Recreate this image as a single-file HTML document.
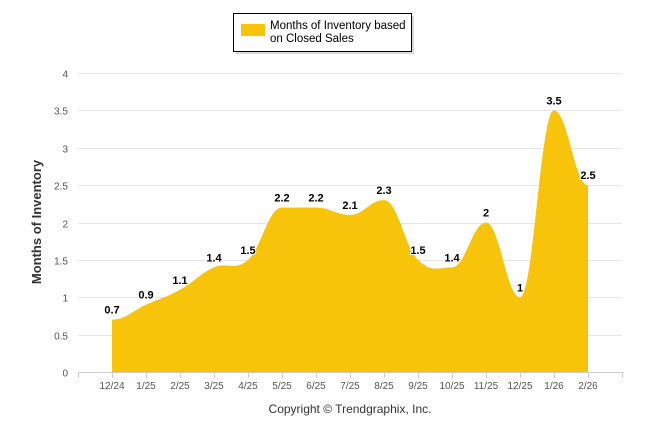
<!DOCTYPE html>
<html><head><meta charset="utf-8"><style>
body{margin:0;background:#fff;font-family:"Liberation Sans",Arial,sans-serif}
</style></head><body>
<svg width="646" height="434" viewBox="0 0 646 434">
<g>
<rect x="236" y="16" width="178" height="38" fill="#999" opacity="0.35"/>
<rect x="233.5" y="13.5" width="178" height="38" fill="#fff" stroke="#000" stroke-width="1"/>
<rect x="241" y="24" width="24" height="12" fill="#f8c40a"/>
<text x="270" y="29" font-size="11.5" fill="#000"><tspan x="270">Months of Inventory based</tspan><tspan x="270" dy="13">on Closed Sales</tspan></text>
</g>
<g id="grid"></g>
<path id="area" fill="#f8c40a"/>
<g id="labels"></g>
<line x1="78" y1="372.5" x2="622" y2="372.5" stroke="#ccc"/>
<g id="xticks"></g>
<text x="41" y="222" font-size="13" font-weight="bold" fill="#333" text-anchor="middle" transform="rotate(-90 41 222)">Months of Inventory</text>
<text x="350" y="413" font-size="12" fill="#333" text-anchor="middle">Copyright © Trendgraphix, Inc.</text>
</svg>
<script>
const categories=["12/24","1/25","2/25","3/25","4/25","5/25","6/25","7/25","8/25","9/25","10/25","11/25","12/25","1/26","2/26"];
const values=[0.7,0.9,1.1,1.4,1.5,2.2,2.2,2.1,2.3,1.5,1.4,2,1,3.5,2.5];
const yTicks=[0,0.5,1,1.5,2,2.5,3,3.5,4];
const NS="http://www.w3.org/2000/svg";
const L=78,R=622,T=73,B=372,YMAX=4;
const step=(R-L)/(categories.length+1);
const xs=i=>L+step*(i+1);
const ys=v=>B-(v/YMAX)*(B-T);
function mk(tag,attrs,parent,text){const e=document.createElementNS(NS,tag);for(const k in attrs)e.setAttribute(k,attrs[k]);if(text!=null)e.textContent=text;parent.appendChild(e);return e;}
const grid=document.getElementById('grid');
yTicks.forEach(t=>{
  const y=Math.round(ys(t))+0.5;
  if(t>0){const g=mk('line',{x1:L,x2:R,y1:y,y2:y,stroke:'#e6e6e6'},grid);
  
  }
  const tl=mk('text',{x:68,y:y+4,'font-size':10,fill:'#555','text-anchor':'end'},grid,String(t));
  
  
});
const xt=document.getElementById('xticks');
[L].concat(categories.map((c,i)=>xs(i))).concat([R]).forEach(x=>{
  const t=mk('line',{x1:Math.round(x)+0.5,x2:Math.round(x)+0.5,y1:372,y2:378,stroke:'#ccc'},xt);
  
  
});
categories.forEach((c,i)=>{
  const t=mk('text',{x:xs(i),y:389,'font-size':10,fill:'#555','text-anchor':'middle'},xt,c);
  
  
});
const pts=values.map((v,i)=>[xs(i),ys(v)]);
function slope(i){
  if(i===0||i===pts.length-1)return 0;
  const a=pts[i-1][1],b=pts[i][1],c=pts[i+1][1];
  if((b<=a&&b<=c)||(b>=a&&b>=c))return 0;
  return (c-a)/(pts[i+1][0]-pts[i-1][0]);
}
let d=`M${pts[0][0]},${B} L${pts[0][0]},${pts[0][1]}`;
for(let i=1;i<pts.length;i++){
  const [x0,y0]=pts[i-1],[x1,y1]=pts[i];const dx=(x1-x0)*0.4;
  d+=` C${x0+dx},${y0+slope(i-1)*dx} ${x1-dx},${y1-slope(i)*dx} ${x1},${y1}`;
}
d+=` L${pts[pts.length-1][0]},${B} Z`;
document.getElementById('area').setAttribute('d',d);
const lg=document.getElementById('labels');
values.forEach((v,i)=>{
  const t=mk('text',{x:xs(i),y:ys(v)-6,'font-size':11,'font-weight':'bold',fill:'#000','text-anchor':'middle',stroke:'#fff','stroke-width':2,'paint-order':'stroke'},lg,String(v));
  
  
});
</script>
</body></html>
